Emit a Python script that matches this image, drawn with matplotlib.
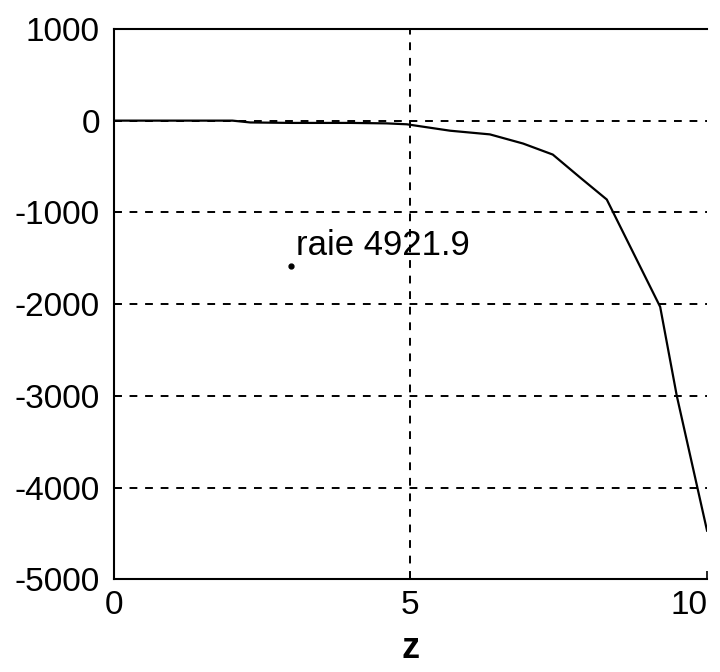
import matplotlib
matplotlib.use("Agg")
import matplotlib.pyplot as plt

plt.rcParams['font.family'] = ['Liberation Sans', 'DejaVu Sans']
plt.rcParams['axes.unicode_minus'] = False

# profile along z
z = [0, 1, 2, 2.3, 3, 4, 4.6, 4.94, 5.67, 6.34, 6.9, 7.4, 7.86, 8.31, 9.21, 9.49, 9.83, 10]
val = [0, 0, 0, -20, -25, -25, -30, -40, -110, -150, -250, -370, -620, -860, -2030, -3000, -3980, -4470]

x_ticks = [0, 5, 10]
y_ticks = [1000, 0, -1000, -2000, -3000, -4000, -5000]

label_txt = 'raie 4921.9'
label_pos = (3.08, -1360)
dot_pos = (2.98, -1590)

fig = plt.figure(figsize=(7.2, 6.72), dpi=100)
ax = fig.add_axes([0.158, 0.138, 0.824, 0.819])

ax.plot(z, val, color='black', lw=1.6)
ax.plot([dot_pos[0]], [dot_pos[1]], 'o', color='black', ms=3.5)
ax.text(label_pos[0], label_pos[1], label_txt, fontsize=25, ha='left', va='center')

ax.set_xlim(0, 10)
ax.set_ylim(-5000, 1000)
ax.set_xticks(x_ticks)
ax.set_yticks(y_ticks)
ax.set_xticklabels([str(t) for t in x_ticks])
ax.tick_params(direction='in', length=6, width=1.2, labelsize=24, pad=10)
ax.tick_params(axis='x', pad=8)
# keep the last x label inside the figure
last = ax.get_xticklabels()[-1]
last.set_horizontalalignment('right')

ax.grid(True, color='black', lw=1.4, linestyle=(0, (4, 4)))
for gl in ax.get_xgridlines():
    if gl.get_xdata()[0] in (0, 10):
        gl.set_visible(False)

for side in ['left', 'bottom', 'top']:
    ax.spines[side].set_linewidth(1.5)
ax.spines['right'].set_visible(False)

ax.set_xlabel('z', fontsize=26, fontweight='bold', labelpad=7)

fig.savefig('out.png', dpi=100)
